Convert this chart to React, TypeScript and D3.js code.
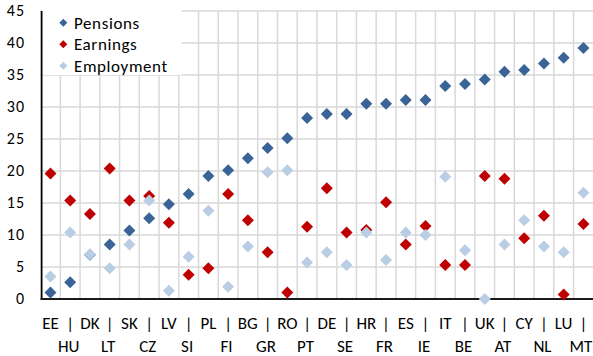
import React, { useEffect } from "react";
import * as d3 from "d3";

const categories = ["EE","HU","DK","LT","SK","CZ","LV","SI","PL","FI","BG","GR","RO","PT","DE","SE","HR","FR","ES","IE","IT","BE","UK","AT","CY","NL","LU","MT"];
const pensions = [1.0,2.6,6.9,8.5,10.7,12.6,14.8,16.4,19.2,20.1,22.0,23.6,25.1,28.3,28.9,28.9,30.5,30.5,31.1,31.1,33.3,33.6,34.3,35.5,35.8,36.8,37.7,39.2];
const earnings = [19.6,15.4,13.3,20.4,15.4,16.1,11.9,3.8,4.8,16.4,12.3,7.3,1.0,11.3,17.3,10.4,10.8,15.1,8.5,11.4,5.3,5.3,19.2,18.8,9.5,13.0,0.7,11.7];
const employment = [3.5,10.4,7.0,4.8,8.5,15.4,1.3,6.6,13.8,1.9,8.2,19.8,20.1,5.7,7.3,5.3,10.4,6.1,10.4,10.0,19.1,7.6,0.0,8.5,12.3,8.2,7.3,16.6];
const yTicks = [0,5,10,15,20,25,30,35,40,45];
const seriesNames = ["Pensions","Earnings","Employment"];

const W = 593, H = 356;
const M = { left: 40.6, right: 593.3, top: 11, bottom: 299 };
const colors = ["#3A6497", "#C00000", "#B9CDE5"];
const FONT = "Carlito, Calibri, 'Liberation Sans', Arial, sans-serif";

function diamond(cx: number, cy: number, r: number) {
  return `M${cx},${cy - r}L${cx + r},${cy}L${cx},${cy + r}L${cx - r},${cy}Z`;
}

export default function App() {
  useEffect(() => {
    document.body.style.margin = "0";
  }, []);

  const x = d3.scaleBand<string>().domain(categories).range([M.left, M.right]).padding(0);
  const y = d3.scaleLinear().domain([0, 45]).range([M.bottom, M.top]);
  const step = x.step();
  const cx = (c: string) => (x(c) as number) + step / 2;

  const data = [pensions, earnings, employment];

  return (
    <svg width={W} height={H} style={{ position: "absolute", left: 0, top: 0, background: "#fff" }} fontFamily={FONT}>
      {yTicks.filter(t => t > 0).map(t => (
        <line key={"h" + t} x1={M.left} x2={W} y1={y(t)} y2={y(t)} stroke="#D9D9D9" strokeWidth={1.5} />
      ))}
      {categories.slice(1).map(c => (
        <line key={"v" + c} x1={x(c)} x2={x(c)} y1={M.top} y2={M.bottom} stroke="#D9D9D9" strokeWidth={1.5} />
      ))}
      <rect x={M.left + 1} y={M.top - 1} width={140} height={65} fill="#fff" />
      <line x1={M.left + 1} x2={M.left + 1} y1={M.top} y2={M.bottom + 1} stroke="#000" strokeWidth={1.8} />
      <line x1={M.left} x2={W} y1={M.bottom} y2={M.bottom} stroke="#1a1a1a" strokeWidth={1.8} />
      {yTicks.map(t => (
        <text key={"yt" + t} x={25} y={y(t) + 5.3} textAnchor="end" fontSize={16} letterSpacing={1} fill="#000">{t}</text>
      ))}
      {data.map((vals, si) => (
        <g key={"s" + si}>
          {vals.map((v, i) => (
            <path key={i} d={diamond(cx(categories[i]), y(v), 6)} fill={colors[si]} />
          ))}
        </g>
      ))}
      {categories.map((c, i) => (
        i % 2 === 0 ? (
          <text key={"xl" + c} x={cx(c)} y={329.3} textAnchor="middle" fontSize={17} fill="#000">{c}</text>
        ) : (
          <g key={"xl" + c}>
            <text x={cx(c)} y={329.3} textAnchor="middle" fontSize={17} fill="#000">|</text>
            <text x={Math.min(cx(c) - 1.5, W - 12)} y={351.7} textAnchor="middle" fontSize={17} fill="#000">{c}</text>
          </g>
        )
      ))}
      {seriesNames.map((n, i) => (
        <g key={"lg" + n}>
          <path d={diamond(63.3, 22.7 + i * 21.5, 4)} fill={colors[i]} />
          <text x={74} y={28.8 + i * 21.5} fontSize={17} letterSpacing={0.6} fill="#000">{n}</text>
        </g>
      ))}
    </svg>
  );
}
